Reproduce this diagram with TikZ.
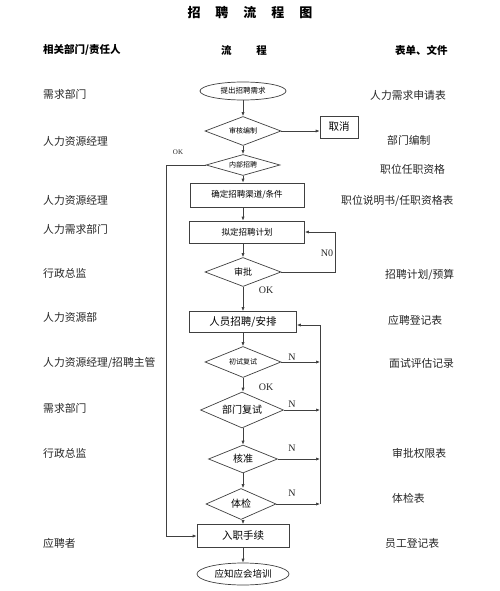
\documentclass[tikz,border=0pt]{standalone}
\usepackage{fontspec}
\setmainfont{Liberation Serif}
\newfontfamily\cjk{Noto Sans CJK SC}
\usetikzlibrary{shapes.geometric,arrows.meta}
\begin{document}
\begin{tikzpicture}[x=1pt,y=-1pt]
\tikzset{
  fs/.style={font={\cjk\fontsize{#1}{#1}\selectfont}},
  ln/.style={draw=black!75, line width=0.7pt},
  arr/.style={ln, -{Latex[length=4pt,width=3.2pt]}},
  dia/.style={diamond, ln, inner sep=0pt, aspect=2.5},
  boxs/.style={rectangle, ln, inner sep=0pt},
  ell/.style={ellipse, ln, inner sep=0pt},
  lab/.style={anchor=west, inner sep=0pt, text=black!85, font={\cjk\fontsize{10.8}{11}\selectfont}},
  hdr/.style={inner sep=0pt, font={\cjk\bfseries\fontsize{10.5}{11}\selectfont}},
  lat/.style={inner sep=0pt, text=black!85, font={\fontsize{#1}{#1}\selectfont}},
}
\fill[white] (0,0) rectangle (500,591);
\useasboundingbox (0,0) rectangle (500,591);

% title and headers
\node[inner sep=0pt, font={\cjk\bfseries\fontsize{13}{13}\selectfont}] (title) at (250,13)
  {招\hspace{15pt}聘\hspace{15pt}流\hspace{15pt}程\hspace{15pt}图};
\node[hdr, anchor=west] (h1) at (43,50) {相关部门/责任人};
\node[hdr] (h2) at (244,50) {流\hspace{25pt}程};
\node[hdr, anchor=west] (h3) at (395,50) {表单、文件};

% left column
\node[lab] (l1) at (43,94) {需求部门};
\node[lab] (l2) at (43,141) {人力资源经理};
\node[lab] (l3) at (43,200) {人力资源经理};
\node[lab] (l4) at (43,229) {人力需求部门};
\node[lab] (l5) at (43,273) {行政总监};
\node[lab] (l6) at (43,317) {人力资源部};
\node[lab] (l7) at (43,363) {人力资源经理/招聘主管};
\node[lab] (l8) at (43,408) {需求部门};
\node[lab] (l9) at (43,453) {行政总监};
\node[lab] (l10) at (43,543) {应聘者};

% right column
\node[lab] (r1) at (370,95) {人力需求申请表};
\node[lab] (r2) at (387,140) {部门编制};
\node[lab] (r3) at (380,169) {职位任职资格};
\node[lab] (r4) at (341,201) {职位说明书/任职资格表};
\node[lab] (r5) at (385,275) {招聘计划/预算};
\node[lab] (r6) at (388,320) {应聘登记表};
\node[lab] (r7) at (389,363) {面试评估记录};
\node[lab] (r8) at (392,453) {审批权限表};
\node[lab] (r9) at (392,498) {体检表};
\node[lab] (r10) at (385,543) {员工登记表};

% flow nodes
\node[ell, minimum width=86pt, minimum height=18pt, fs=7.5] (e1) at (243,91) {提出招聘需求};
\node[dia, minimum width=76pt, minimum height=29pt, fs=7] (d1) at (243,131) {审核编制};
\node[boxs, minimum width=38pt, minimum height=22pt, fs=10.5] (cancel) at (339,127) {取消};
\node[dia, minimum width=74pt, minimum height=21pt, fs=7] (d2) at (243,165) {内部招聘};
\node[boxs, minimum width=114pt, minimum height=24pt, fs=8.5] (b1) at (247,195) {确定招聘渠道/条件};
\node[boxs, minimum width=115pt, minimum height=22pt, fs=8.5] (b2) at (247,232) {拟定招聘计划};
\node[dia, minimum width=76pt, minimum height=29pt, fs=9] (d3) at (243,272) {审批};
\node[boxs, minimum width=107pt, minimum height=21pt, fs=10.5] (b3) at (243,322) {人员招聘/安排};
\node[dia, minimum width=76pt, minimum height=31pt, fs=7] (d4) at (243,362) {初试复试};
\node[dia, minimum width=83pt, minimum height=36pt, fs=10] (d5) at (242,410) {部门复试};
\node[dia, minimum width=69pt, minimum height=28pt, fs=10] (d6) at (243,459) {核准};
\node[dia, minimum width=70pt, minimum height=31pt, fs=10] (d7) at (241,504) {体检};
\node[boxs, minimum width=92pt, minimum height=23pt, fs=10.5] (b4) at (243,536) {入职手续};
\node[ell, minimum width=92pt, minimum height=22pt, fs=9.5] (e2) at (243,574) {应知应会培训};

% helper coordinates
\coordinate (lc) at (166,163);
\coordinate (nl) at (335,272);
\coordinate (rt) at (320,325);
\coordinate (rb) at (320,504);

% main chain
\draw[arr] (e1) -- (d1);
\draw[arr] (d1) -- (d2);
\draw[arr] (d2.south) -- (d2.south |- b1.north);
\draw[arr] (b1.south -| d2.south) -- (b2.north -| d2.south);
\draw[arr] (b2.south -| d3.north) -- (d3.north);
\draw[arr] (d3) -- (b3);
\draw[arr] (b3) -- (d4);
\draw[arr] (d4.south) -- (d4.south |- d5.north);
\draw[arr] (d5.south -| d6.north) -- (d6.north);
\draw[arr] (d6.south) -- (d6.south |- d7.north);
\draw[arr] (d7.south -| b4.north) -- (b4.north);
\draw[arr] (b4) -- (e2);

% cancel
\draw[arr] (d1.east) -- (d1.east -| cancel.west);

% internal OK loop
\draw[arr] (d2.west) -- (d2.west -| lc) |- (b4.west);
\node[lat=7] (ok1) at (178,152) {OK};

% NO loop
\draw[arr] (d3.east) -- (nl) |- (b2.east);
\node[lat=10] (no) at (327,253) {N0};
\node[lat=10] (ok2) at (266,290) {OK};
\node[lat=10] (ok3) at (266,387) {OK};

% right N loop
\draw[ln] (rb) -- (rt);
\draw[arr] (rt) -- (rt -| b3.east);
\draw[arr] (d4.east) -- (d4.east -| rt);
\draw[arr] (d5.east) -- (d5.east -| rt);
\draw[arr] (d6.east) -- (d6.east -| rt);
\draw[arr] (d7.east) -- (d7.east -| rt);
\node[lat=10] (n1) at (292,357) {N};
\node[lat=10] (n2) at (292,404) {N};
\node[lat=10] (n3) at (292,448) {N};
\node[lat=10] (n4) at (292,493) {N};
\end{tikzpicture}
\end{document}
